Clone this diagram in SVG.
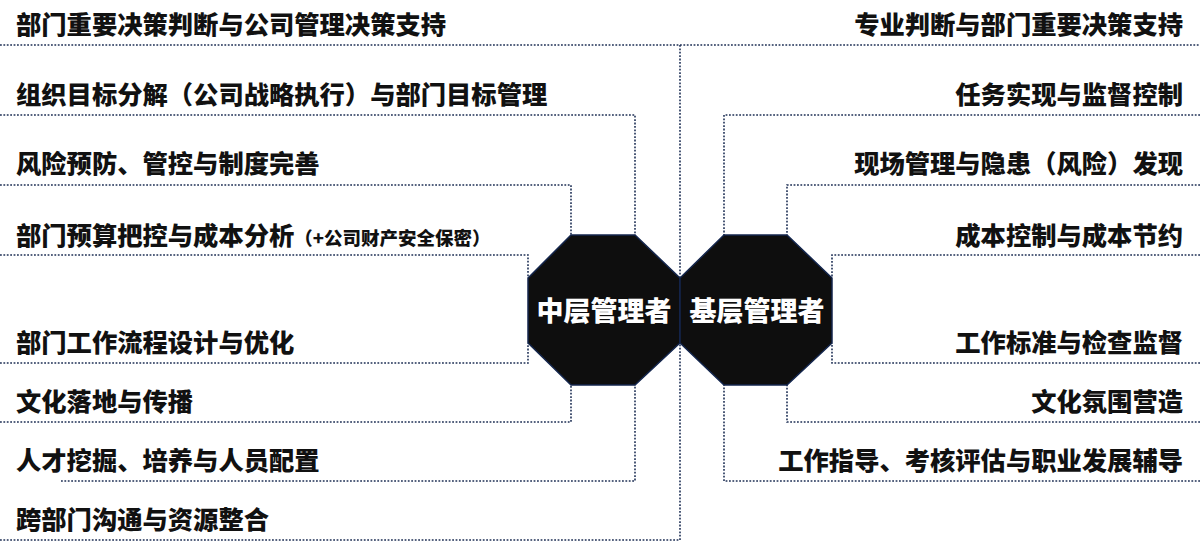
<svg xmlns="http://www.w3.org/2000/svg" width="1200" height="548" viewBox="0 0 1200 548">
<style>
.bg{fill:#ffffff}
.c{fill:none;stroke:#1f3055;stroke-width:1.6;stroke-dasharray:1.8 1.6}
.oct{fill:#0e0e0e;stroke:#14264d;stroke-width:1.5}
.t{font-family:"Noto Sans CJK SC","Noto Sans",sans-serif;font-weight:900;font-size:25.3px;fill:#111111}
.s{font-size:18.5px}
.r{text-anchor:end}
.o{font-family:"Noto Sans CJK SC","Noto Sans",sans-serif;font-weight:900;font-size:27px;fill:#ffffff;text-anchor:middle}
</style>
<rect class="bg" x="0" y="0" width="1200" height="548"/>
<g id="connectors">
<polyline class="c" points="0,45 1200,45"/>
<polyline class="c" points="680,45 680,278"/>
<polyline class="c" points="0,115 635,115 635,235"/>
<polyline class="c" points="0,185 571,185 571,235"/>
<polyline class="c" points="0,255 528,255 528,278"/>
<polyline class="c" points="0,363 528,363 528,343"/>
<polyline class="c" points="0,422 571,422 571,385"/>
<polyline class="c" points="61,481 635,481 635,385"/>
<polyline class="c" points="0,540 680,540 680,343"/>
<polyline class="c" points="1200,115 724,115 724,235"/>
<polyline class="c" points="1200,185 787,185 787,235"/>
<polyline class="c" points="1200,255 832,255 832,278"/>
<polyline class="c" points="1200,363 832,363 832,343"/>
<polyline class="c" points="1200,422 787,422 787,385"/>
<polyline class="c" points="1200,481 724,481 724,385"/>
</g>
<g id="node-middle">
<polygon class="oct" points="571,235 635,235 680,278 680,343 635,385 571,385 528,343 528,278"/>
<text class="o" x="604" y="321">中层管理者</text>
</g>
<g id="node-base">
<polygon class="oct" points="724,235 787,235 832,278 832,343 787,385 724,385 680,343 680,278"/>
<text class="o" x="757" y="321">基层管理者</text>
</g>
<g id="left-items">
<text class="t" x="16" y="34">部门重要决策判断与公司管理决策支持</text>
<text class="t" x="16" y="104">组织目标分解（公司战略执行）与部门目标管理</text>
<text class="t" x="16" y="173">风险预防、管控与制度完善</text>
<text class="t" x="16" y="245">部门预算把控与成本分析<tspan class="s">（+公司财产安全保密）</tspan></text>
<text class="t" x="16" y="352">部门工作流程设计与优化</text>
<text class="t" x="16" y="411">文化落地与传播</text>
<text class="t" x="16" y="470">人才挖掘、培养与人员配置</text>
<text class="t" x="16" y="529">跨部门沟通与资源整合</text>
</g>
<g id="right-items">
<text class="t r" x="1183" y="34">专业判断与部门重要决策支持</text>
<text class="t r" x="1183" y="104">任务实现与监督控制</text>
<text class="t r" x="1183" y="173">现场管理与隐患（风险）发现</text>
<text class="t r" x="1183" y="245">成本控制与成本节约</text>
<text class="t r" x="1183" y="352">工作标准与检查监督</text>
<text class="t r" x="1183" y="411">文化氛围营造</text>
<text class="t r" x="1183" y="470">工作指导、考核评估与职业发展辅导</text>
</g>
</svg>
